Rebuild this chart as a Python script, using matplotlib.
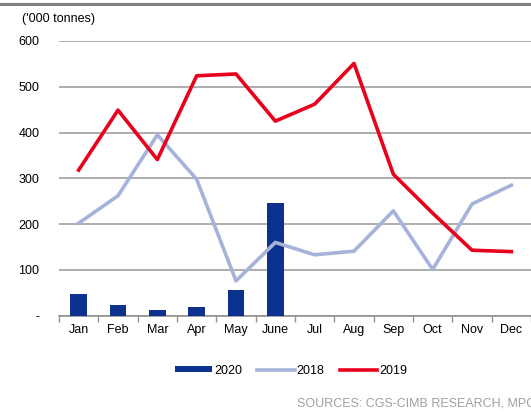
import matplotlib
matplotlib.use("Agg")
import matplotlib.pyplot as plt
import numpy as np

plt.rcParams['font.family'] = ['Liberation Sans', 'DejaVu Sans']

months = ["Jan", "Feb", "Mar", "Apr", "May", "June", "Jul", "Aug", "Sep", "Oct", "Nov", "Dec"]
s2020 = [48, 23, 12, 19, 56, 247]
s2018 = [202, 262, 395, 298, 76, 160, 133, 141, 229, 101, 244, 285]
s2019 = [318, 449, 341, 524, 528, 425, 462, 551, 309, 224, 143, 140]
yticks = [0, 100, 200, 300, 400, 500, 600]
yticklabels = ["-", "100", "200", "300", "400", "500", "600"]

fig = plt.figure(figsize=(5.31, 4.12), dpi=100)
W, H = 531, 412
ax = fig.add_axes([59 / W, 1 - 315.7 / H, (531 - 59) / W, (315.7 - 41) / H])

x = np.arange(len(months))
b = ax.bar(x[:len(s2020)], s2020, width=0.42, color="#0c318f", label="2020", zorder=3)
l18, = ax.plot(x, s2018, color="#a5b3db", lw=2.6, label="2018", zorder=4)
l19, = ax.plot(x, s2019, color="#e8001c", lw=2.6, label="2019", zorder=5)

ax.set_xlim(-0.5, len(months) - 0.5)
ax.set_ylim(0, 600)
ax.set_yticks(yticks)
ax.set_yticklabels(yticklabels, fontsize=9)
ax.yaxis.grid(True, color="#a0a0a0", lw=1.2, zorder=0)
ax.tick_params(axis="y", length=0, pad=14)
ax.set_xticks(x)
ax.set_xticklabels(months, fontsize=9)
ax.set_xticks(np.arange(-0.5, len(months), 1), minor=True)
ax.tick_params(axis="x", which="major", length=0, pad=6)
ax.tick_params(axis="x", which="minor", length=4, color="#909090", width=1)
for s in ["left", "right", "top"]:
    ax.spines[s].set_visible(False)
ax.spines["bottom"].set_color("#909090")
ax.spines["bottom"].set_linewidth(1.2)

fig.text(22 / W, 1 - 19 / H, "('000 tonnes)", fontsize=9, va="center", ha="left")

leg = fig.legend([b, l18, l19], ["2020", "2018", "2019"], loc="center",
                 bbox_to_anchor=(291 / W, 1 - 371 / H), ncol=3, frameon=False,
                 fontsize=9, handlelength=3.0, handletextpad=0.15, columnspacing=1.2)
for h in leg.legend_handles:
    if hasattr(h, "set_height"):
        h.set_height(4)
        h.set_y(h.get_y() + 1.5)

fig.text(297 / W, 1 - 403 / H, "SOURCES: CGS-CIMB RESEARCH, MPOB", fontsize=9, color="#a0a0a0",
         va="center", ha="left")

fig.add_artist(plt.Line2D([0, 1], [1 - 3.5 / H, 1 - 3.5 / H], color="#808080", lw=2.2,
                          transform=fig.transFigure))

fig.savefig("out.png", dpi=100)
